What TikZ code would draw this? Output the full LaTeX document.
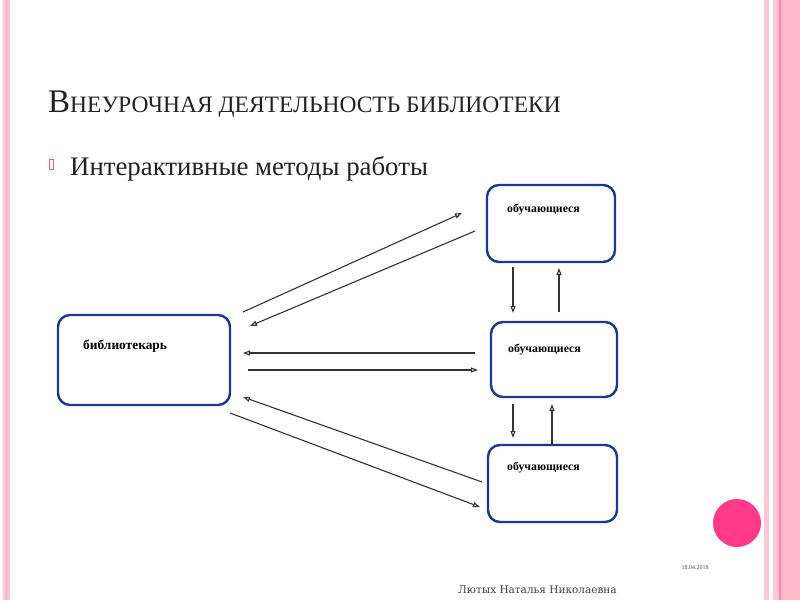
\documentclass[tikz,border=0pt]{standalone}
\usepackage{fontspec}
\setmainfont{Liberation Serif}
\newfontfamily\footfont{DejaVu Serif}
\usetikzlibrary{arrows.meta}
\definecolor{boxblue}{HTML}{1C3890}
\definecolor{pinkA}{HTML}{FFB8CA}
\definecolor{pinkB}{HTML}{F48DB0}
\definecolor{pinkC}{HTML}{FFC6D5}
\definecolor{circpink}{HTML}{FF3A88}
\definecolor{bulletpink}{HTML}{E0608C}
\definecolor{titlegray}{HTML}{222222}
\begin{document}
\begin{tikzpicture}[x=1pt,y=-1pt,
  box/.style={draw=boxblue, line width=2.4pt, rounded corners=12pt, fill=white, inner sep=0pt},
  lbl/.style={font=\fontsize{11.8}{13}\selectfont\bfseries, anchor=west, inner sep=0pt},
  arr/.style={draw=black!80, line width=1.1pt, -{Triangle[open,length=7pt,width=5pt]}}]
\useasboundingbox (0,0) rectangle (800,600);
\fill[white] (0,0) rectangle (800,600);
% left border
\fill[pinkC] (3,0) rectangle (10,600);
\fill[pinkA] (5,0) rectangle (8,600);
% right border
\fill[pinkC] (764,0) rectangle (768.5,600);
\fill[pinkA] (773,0) rectangle (800,600);
\fill[pinkB] (779,0) rectangle (781,600);
\fill[pinkC] (773,0) rectangle (778,600);
% title
\node[anchor=base west, inner sep=0pt, text=titlegray] (title) at (48,112)
  {{\fontsize{33}{40}\selectfont В}{\fontsize{23.5}{30}\selectfont НЕУРОЧНАЯ ДЕЯТЕЛЬНОСТЬ БИБЛИОТЕКИ}};
% bullet
\draw[bulletpink, line width=0.7pt] (49.5,159) rectangle (53.5,169);
\node[anchor=base west, inner sep=0pt, text=titlegray, font=\fontsize{26.8}{30}\selectfont] (sub) at (70,175)
  {Интерактивные методы работы};
% boxes
\node[box, minimum width=172pt, minimum height=90pt] (lib) at (144,360) {};
\node[box, minimum width=128pt, minimum height=77pt] (top) at (551,223.5) {};
\node[box, minimum width=126pt, minimum height=75pt] (mid) at (554,359.5) {};
\node[box, minimum width=129pt, minimum height=77pt] (bot) at (552.5,483.5) {};
\node[lbl, font=\fontsize{13.4}{15}\selectfont\bfseries] (libl) at (83,346) {библиотекарь};
\node[lbl] (topl) at (507,210) {обучающиеся};
\node[lbl] (midl) at (508,350) {обучающиеся};
\node[lbl] (botl) at (507,468) {обучающиеся};
% arrow end points
\coordinate (a1s) at (243,312); \coordinate (a1e) at (462,213);
\coordinate (a2s) at (475,231); \coordinate (a2e) at (250,326);
\coordinate (a3s) at (475,353); \coordinate (a3e) at (243,353);
\coordinate (a4s) at (248,370); \coordinate (a4e) at (478,370);
\coordinate (a5s) at (482,482); \coordinate (a5e) at (243,397);
\coordinate (a6s) at (230,413); \coordinate (a6e) at (480,507);
\coordinate (v1s) at (513,267); \coordinate (v1e) at (513,313);
\coordinate (v2s) at (559,312); \coordinate (v2e) at (559,268);
\coordinate (v3s) at (513,404); \coordinate (v3e) at (513,438);
\coordinate (v4s) at (552,445); \coordinate (v4e) at (552,404);
\draw[arr] (a1s) -- (a1e);
\draw[arr] (a2s) -- (a2e);
\draw[arr] (a3s) -- (a3e);
\draw[arr] (a4s) -- (a4e);
\draw[arr] (a5s) -- (a5e);
\draw[arr] (a6s) -- (a6e);
\draw[arr] (v1s) -- (v1e);
\draw[arr] (v2s) -- (v2e);
\draw[arr] (v3s) -- (v3e);
\draw[arr] (v4s) -- (v4e);
% decoration
\fill[circpink] (737,523) circle[radius=24pt];
\node[inner sep=0pt, text=black!70, font=\fontsize{6}{7}\selectfont] (date) at (695,568) {18.04.2018};
\node[anchor=west, inner sep=0pt, text=black!75, font=\footfont\fontsize{10.5}{12}\selectfont] (foot) at (458,590) {Лютых Наталья Николаевна};
\end{tikzpicture}
\end{document}
